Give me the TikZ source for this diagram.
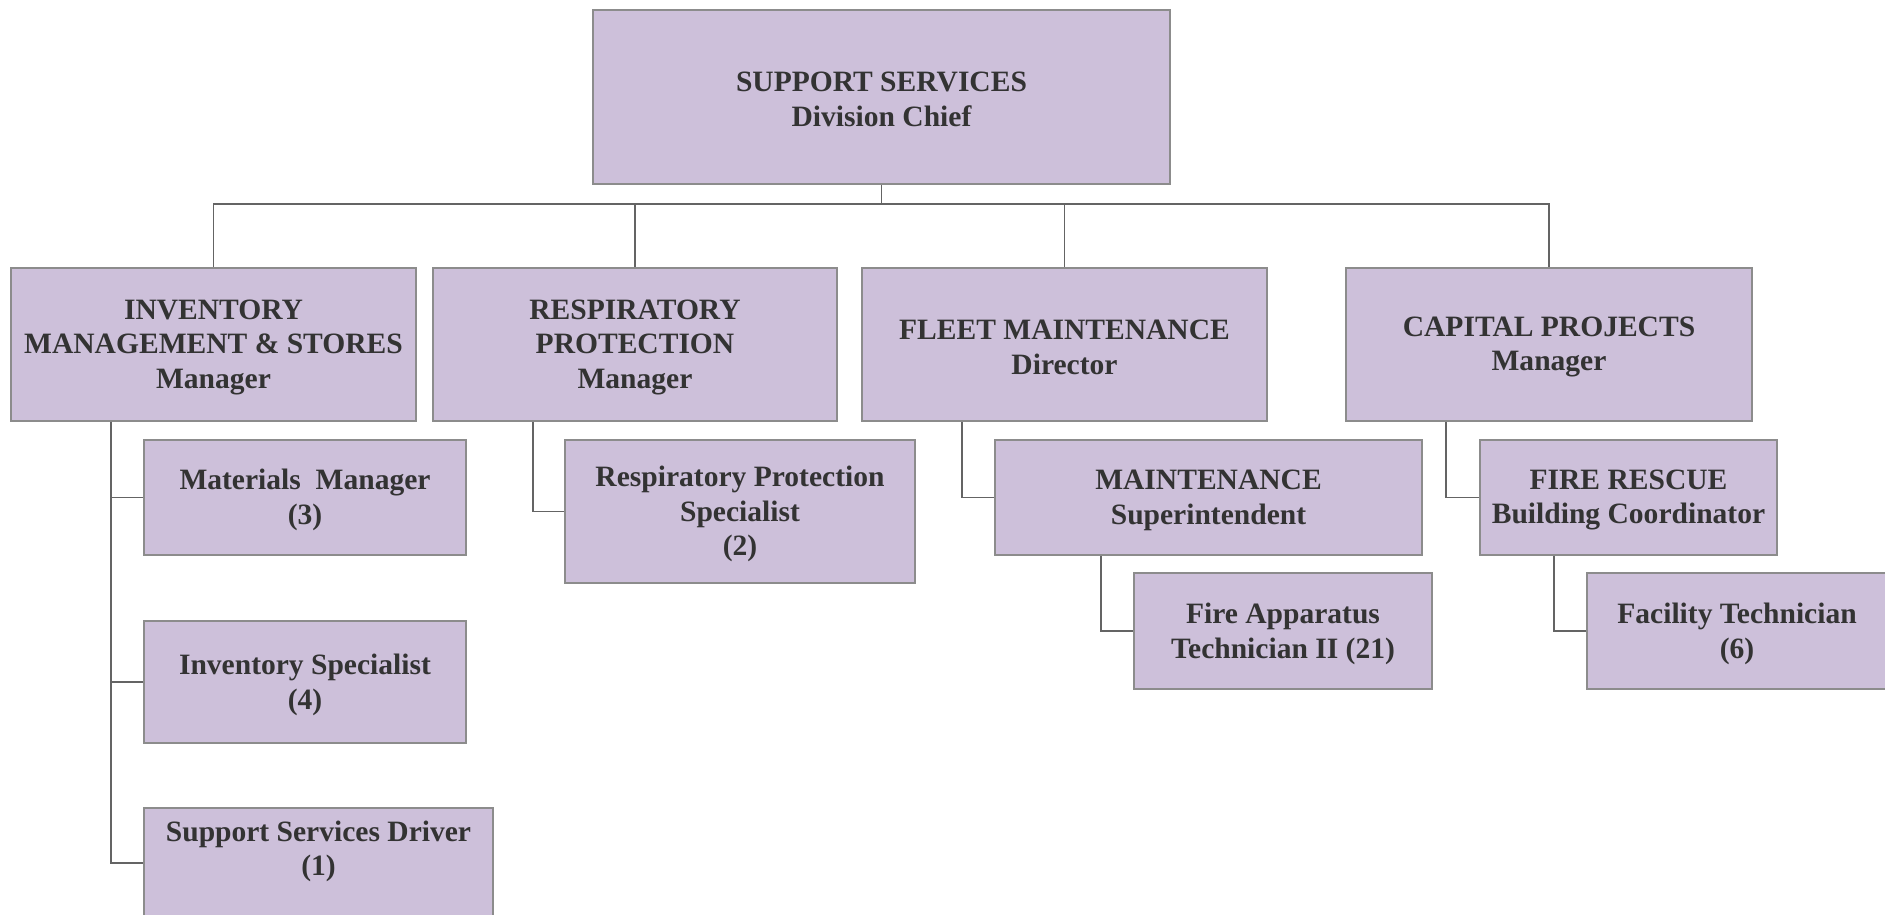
\documentclass[tikz,border=0pt]{standalone}
\usepackage{fontspec}
\setmainfont{Liberation Serif}
\usepackage{tikz}
\usepackage{xcolor}
\usetikzlibrary{calc}
\definecolor{postfill}{RGB}{205,192,218}
\definecolor{postline}{RGB}{140,140,140}
\definecolor{posttext}{RGB}{51,51,51}
\definecolor{linkline}{RGB}{100,100,100}
\tikzset{
  post/.style = {draw=postline, fill=postfill, inner sep=0pt, line width=0.45pt,
    label={[text=posttext, align=center, inner sep=0pt, yshift=-0.75pt,
      font=\fontsize{8.4}{9.85}\selectfont\bfseries]center:#1}}
}
\tikzset{
  link/.style = {draw=linkline, line width=0.45pt}
}
\newcommand{\branch}[3]{
  \draw[link] ($(#1.south west)+(#2,0)$) |- (#3.west);
}

\begin{document}
\begin{tikzpicture}[x=0.01cm, y=-0.01cm]
  \useasboundingbox (0,0) rectangle (1885,914);

  \node[post={SUPPORT SERVICES\\Division Chief},
    minimum width=5.77cm, minimum height=1.74cm] (chief) at (881.5,97) {};

  \node[post={INVENTORY\\MANAGEMENT \& STORES\\Manager},
    minimum width=4.05cm, minimum height=1.53cm] (inv) at (213.5,344.5) {};
  \node[post={RESPIRATORY\\PROTECTION\\Manager},
    minimum width=4.04cm, minimum height=1.53cm] (resp) at (635,344.5) {};
  \node[post={FLEET MAINTENANCE\\Director},
    minimum width=4.05cm, minimum height=1.53cm] (fleet) at (1064.5,344.5) {};
  \node[post={CAPITAL PROJECTS\\Manager},
    minimum width=4.06cm, minimum height=1.53cm] (cap) at (1549,344.5) {};

  \node[post={Materials\ \ Manager\\(3)},
    minimum width=3.22cm, minimum height=1.15cm] (mat) at (305,497.5) {};
  \node[post={Inventory Specialist\\(4)},
    minimum width=3.22cm, minimum height=1.22cm] (invspec) at (305,682) {};
  \node[post={Support Services Driver\\(1)\\\mbox{}},
    minimum width=3.49cm, minimum height=1.10cm] (drv) at (318.5,863) {};

  \node[post={Respiratory Protection\\Specialist\\(2)},
    minimum width=3.50cm, minimum height=1.43cm] (rps) at (740,511.5) {};

  \node[post={MAINTENANCE\\Superintendent},
    minimum width=4.27cm, minimum height=1.15cm] (maint) at (1208.5,497.5) {};
  \node[post={Fire Apparatus\\Technician II (21)},
    minimum width=2.98cm, minimum height=1.16cm] (fat) at (1283,631) {};

  \node[post={FIRE RESCUE\\Building Coordinator},
    minimum width=2.97cm, minimum height=1.15cm] (frc) at (1628.5,497.5) {};
  \node[post={Facility Technician\\(6)},
    minimum width=3.00cm, minimum height=1.16cm] (fac) at (1737,631) {};

  % top level
  \draw[link] (chief.south) -- ++(0,19) coordinate (hub);
  \foreach \n in {inv,resp,fleet,cap}
    \draw[link] (hub) -| (\n.north);

  % sections
  \branch{inv}{101}{mat}
  \branch{inv}{101}{invspec}
  \branch{inv}{101}{drv}
  \branch{resp}{101}{rps}
  \branch{fleet}{101}{maint}
  \branch{maint}{107}{fat}
  \branch{cap}{101}{frc}
  \branch{frc}{75}{fac}
\end{tikzpicture}
\end{document}
